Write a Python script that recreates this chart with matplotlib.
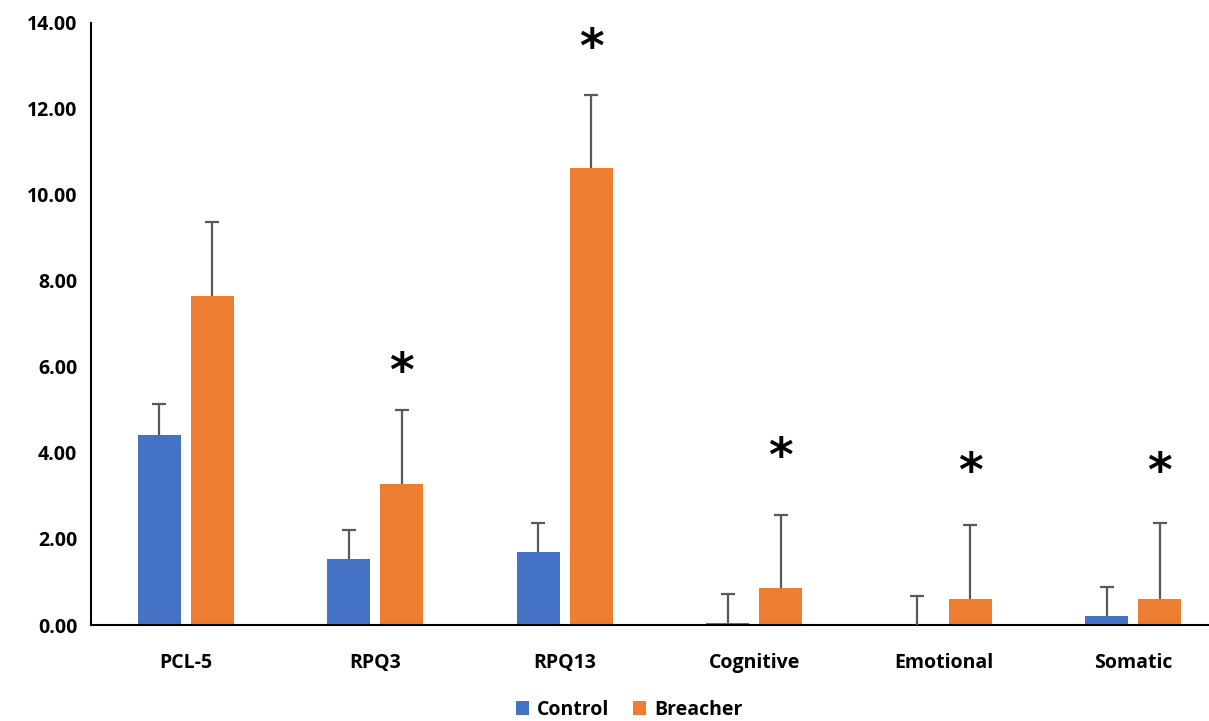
import numpy as np
import matplotlib.pyplot as plt

plt.rcParams['font.family'] = ['Open Sans', 'DejaVu Sans']

# ---- Data ----
categories = ["PCL-5", "RPQ3", "RPQ13", "Cognitive", "Emotional", "Somatic"]
control     = [4.42, 1.54, 1.69, 0.05, 0.00, 0.21]
control_err = [0.72, 0.67, 0.68, 0.68, 0.67, 0.67]
breacher     = [7.65, 3.27, 10.62, 0.85, 0.60, 0.60]
breacher_err = [1.71, 1.73, 1.71, 1.71, 1.72, 1.77]
# significance markers (category index, height)
star_idx = [1, 2, 3, 4, 5]
star_y   = [6.11, 13.64, 4.14, 3.79, 3.79]

blue   = "#4472C4"
orange = "#ED7D31"
grey   = "#595959"

x = np.arange(len(categories))
w = 0.227
off = 0.14

fig = plt.figure(figsize=(12.09, 7.21), dpi=100)
ax = fig.add_axes([0.0753, 0.1331, 0.9405, 0.8354])

ax.bar(x - off, control, w, color=blue, label="Control", zorder=2)
ax.bar(x + off, breacher, w, color=orange, label="Breacher", zorder=2)

# upper-only error bars with a cap at the top
for xs, vals, errs in [(x - off, control, control_err),
                       (x + off, breacher, breacher_err)]:
    tops = np.array(vals) + np.array(errs)
    ax.vlines(xs, vals, tops, color=grey, lw=1.6, zorder=3)
    ax.plot(xs, tops, ls="none", marker="_", ms=9.5, mew=1.6,
            color=grey, zorder=3)

for i, y in zip(star_idx, star_y):
    ax.annotate("*", xy=(x[i] + off, y), xytext=(0, -8),
                textcoords="offset points", ha="center", va="center",
                fontsize=34, fontweight="bold", color="black",
                family="DejaVu Sans")

ax.set_xlim(-0.5, len(categories) - 0.5)
ax.set_ylim(0, 14)
ax.set_yticks(np.arange(0, 15, 2))
ax.set_yticklabels([f"{v:.2f}" for v in np.arange(0, 15, 2)])
ax.set_xticks(x)
ax.set_xticklabels(categories)
ax.tick_params(axis="both", length=0, labelsize=14, pad=10)
ax.tick_params(axis="x", pad=20)
for lbl in ax.get_xticklabels() + ax.get_yticklabels():
    lbl.set_fontweight("bold")

for s in ["top", "right"]:
    ax.spines[s].set_visible(False)
for s in ["left", "bottom"]:
    ax.spines[s].set_linewidth(1.5)
    ax.spines[s].set_color("black")

fig.legend(loc="center", bbox_to_anchor=(629 / 1209, 1 - 710 / 721), ncol=2,
           frameon=False, prop={"size": 14, "weight": "bold"},
           handlelength=0.7, handleheight=0.7, handletextpad=0.4,
           columnspacing=1.2)

fig.savefig("out.png", dpi=100)
